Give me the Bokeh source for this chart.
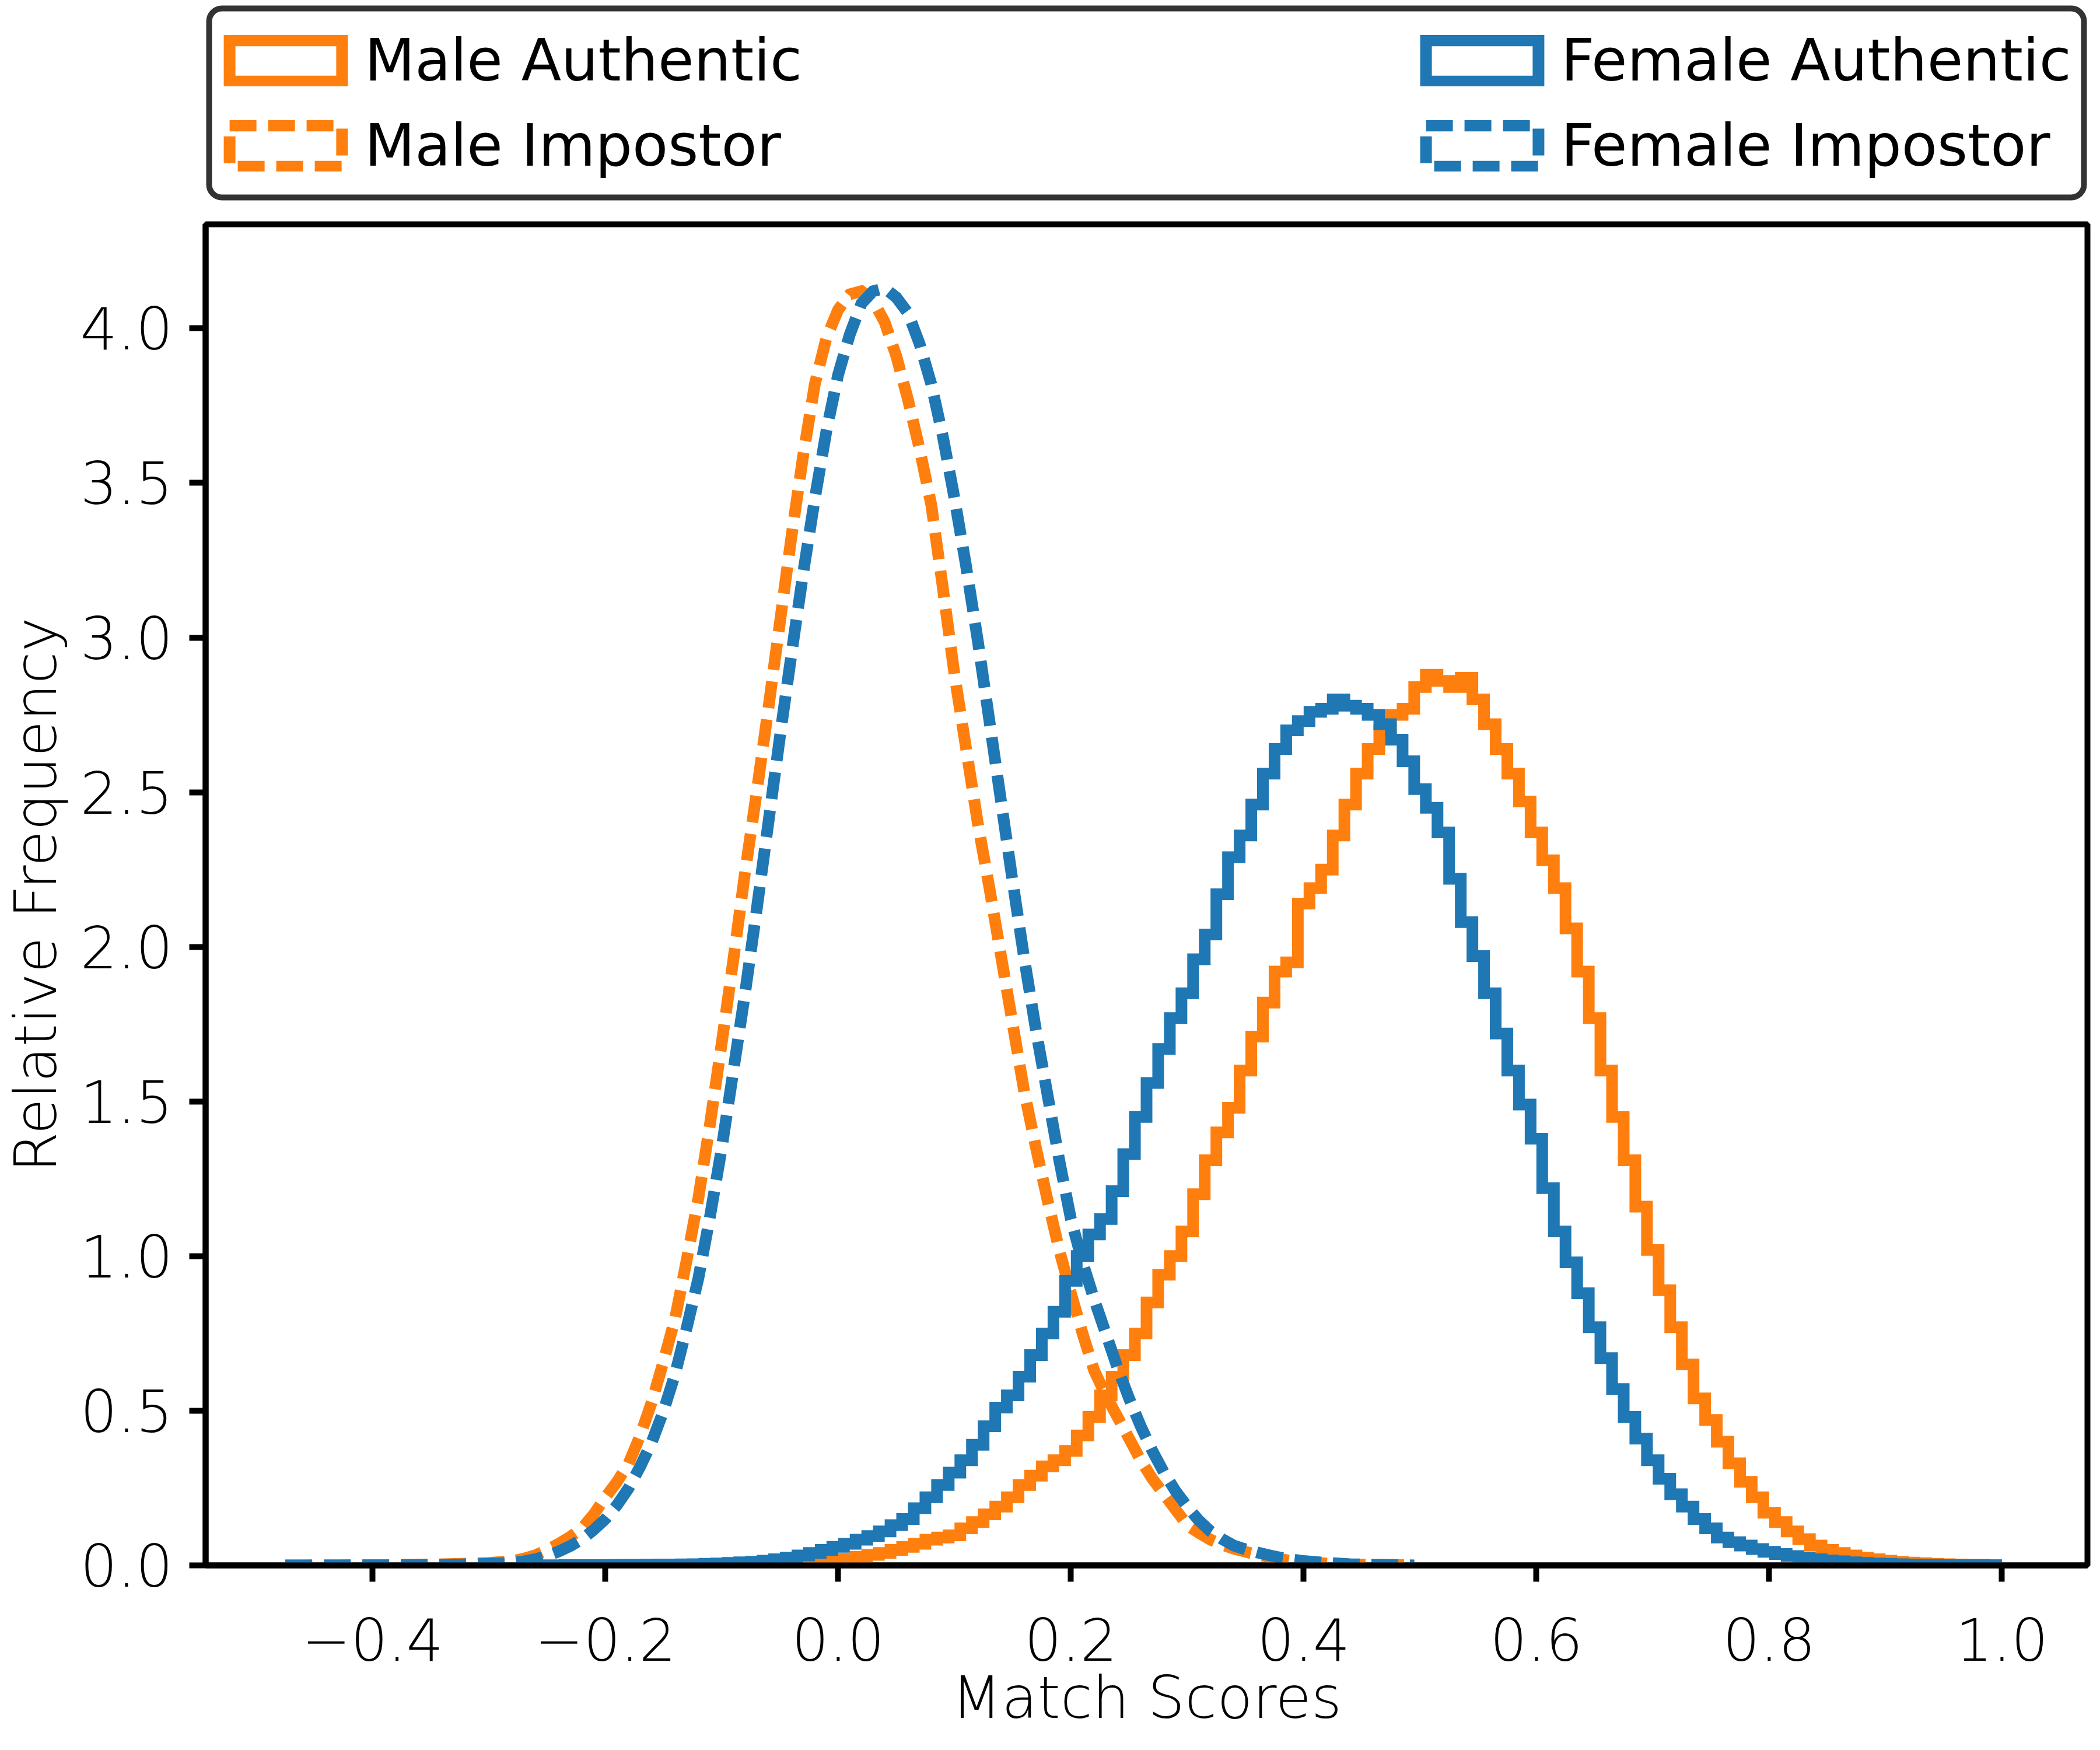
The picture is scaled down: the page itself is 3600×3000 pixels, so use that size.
import numpy as np
from bokeh.plotting import figure
from bokeh.layouts import column
from bokeh.models import (Range1d, FixedTicker, CustomJSTickFormatter, Legend,
                          LegendItem, BoxAnnotation, Title)
from bokeh.embed import file_html
from bokeh.resources import INLINE

# ---------------- data (relative frequency per 0.01-wide bin) ----------------
BIN_WIDTH = 0.01
SCORE_MIN = -0.47
SCORE_MAX = 1.0

male_impostor_first = -0.47   # centre of first bin
male_impostor = [
    0.0002, 0.0002, 0.0003, 0.0003, 0.0004, 0.0005, 0.0006, 0.0008, 0.0010, 0.0013,
    0.0017, 0.0022, 0.0028, 0.0036, 0.0046, 0.0055, 0.0065, 0.008, 0.011, 0.014,
    0.022, 0.033, 0.05, 0.07, 0.093, 0.12, 0.165, 0.22, 0.27, 0.33,
    0.42, 0.53, 0.66, 0.80, 0.99, 1.19, 1.43, 1.69, 1.96, 2.24,
    2.50, 2.77, 3.05, 3.33, 3.59, 3.82, 3.97, 4.06, 4.11, 4.12,
    4.09, 4.02, 3.91, 3.77, 3.61, 3.43, 3.16, 2.88, 2.64, 2.40,
    2.19, 1.97, 1.75, 1.53, 1.35, 1.18, 1.02, 0.88, 0.75, 0.63,
    0.55, 0.48, 0.41, 0.34, 0.28, 0.23, 0.18, 0.13, 0.105, 0.083,
    0.067, 0.054, 0.044, 0.035, 0.027, 0.020, 0.014, 0.010, 0.008, 0.006,
    0.004, 0.003, 0.0025, 0.002, 0.0015, 0.001, 0.0007,
]

female_impostor_first = -0.47
female_impostor = [
    0.0001, 0.0001, 0.0001, 0.0002, 0.0002, 0.0003, 0.0003, 0.0004, 0.0005, 0.0007,
    0.0009, 0.0012, 0.0015, 0.002, 0.0025, 0.0032, 0.004, 0.005, 0.0065, 0.008,
    0.013, 0.02, 0.031, 0.045, 0.063, 0.085, 0.115, 0.15, 0.195, 0.25,
    0.32, 0.40, 0.50, 0.62, 0.77, 0.93, 1.13, 1.35, 1.60, 1.85,
    2.12, 2.40, 2.68, 2.95, 3.21, 3.45, 3.67, 3.85, 3.98, 4.08,
    4.12, 4.13, 4.10, 4.05, 3.95, 3.82, 3.65, 3.45, 3.23, 2.99,
    2.73, 2.47, 2.21, 1.96, 1.73, 1.52, 1.31, 1.12, 0.98, 0.86,
    0.75, 0.64, 0.54, 0.45, 0.37, 0.30, 0.24, 0.19, 0.145, 0.11,
    0.085, 0.064, 0.052, 0.042, 0.033, 0.025, 0.019, 0.014, 0.011, 0.008,
    0.006, 0.004, 0.003, 0.002, 0.0015, 0.001, 0.0007,
]

female_authentic_first = -0.25
female_authentic = [
    0.0005, 0.0005, 0.0008, 0.0008, 0.001, 0.001, 0.0015, 0.002, 0.002, 0.0025,
    0.003, 0.003, 0.0035, 0.004, 0.005, 0.006, 0.008, 0.010, 0.012, 0.015,
    0.020, 0.025, 0.032, 0.040, 0.050, 0.060, 0.070, 0.083, 0.095, 0.11,
    0.13, 0.15, 0.185, 0.22, 0.26, 0.30, 0.34, 0.39, 0.45, 0.51,
    0.55, 0.61, 0.68, 0.75, 0.82, 0.92, 1.00, 1.07, 1.12, 1.21,
    1.33, 1.45, 1.56, 1.67, 1.77, 1.85, 1.96, 2.04, 2.17, 2.29,
    2.36, 2.46, 2.56, 2.64, 2.70, 2.73, 2.76, 2.77, 2.80, 2.78,
    2.77, 2.75, 2.72, 2.67, 2.60, 2.51, 2.45, 2.37, 2.22, 2.08,
    1.97, 1.85, 1.72, 1.60, 1.49, 1.38, 1.22, 1.08, 0.98, 0.88,
    0.77, 0.67, 0.57, 0.48, 0.41, 0.34, 0.28, 0.23, 0.19, 0.15,
    0.12, 0.09, 0.075, 0.064, 0.053, 0.044, 0.037, 0.030, 0.025, 0.020,
    0.016, 0.013, 0.010, 0.008, 0.006, 0.005, 0.004, 0.003, 0.0025, 0.002,
    0.0015, 0.001, 0.001, 0.0008, 0.0005,
]

male_authentic_first = -0.20
male_authentic = [
    0.0005, 0.0005, 0.0007, 0.0008, 0.001, 0.001, 0.0012, 0.0015, 0.0018, 0.002,
    0.0025, 0.003, 0.003, 0.004, 0.005, 0.006, 0.007, 0.009, 0.011, 0.013,
    0.016, 0.021, 0.028, 0.034, 0.040, 0.050, 0.060, 0.070, 0.083, 0.090,
    0.097, 0.12, 0.14, 0.165, 0.19, 0.22, 0.26, 0.29, 0.32, 0.34,
    0.37, 0.42, 0.48, 0.55, 0.61, 0.68, 0.75, 0.85, 0.94, 1.00,
    1.08, 1.20, 1.31, 1.40, 1.48, 1.60, 1.71, 1.82, 1.92, 1.95,
    2.14, 2.19, 2.25, 2.36, 2.46, 2.56, 2.64, 2.70, 2.75, 2.77,
    2.84, 2.88, 2.86, 2.84, 2.87, 2.80, 2.72, 2.64, 2.56, 2.47,
    2.37, 2.28, 2.19, 2.06, 1.92, 1.77, 1.60, 1.45, 1.31, 1.16,
    1.02, 0.89, 0.77, 0.65, 0.54, 0.47, 0.40, 0.33, 0.27, 0.22,
    0.17, 0.14, 0.11, 0.085, 0.064, 0.050, 0.040, 0.032, 0.025, 0.020,
    0.015, 0.012, 0.009, 0.007, 0.005, 0.004, 0.003, 0.002, 0.002, 0.001,
]

x_ticks = [-0.4, -0.2, 0.0, 0.2, 0.4, 0.6, 0.8, 1.0]
y_ticks = [0.0, 0.5, 1.0, 1.5, 2.0, 2.5, 3.0, 3.5, 4.0]
x_title = "Match Scores"
y_title = "Relative Frequency"

ORANGE = "#ff7f0e"
BLUE = "#1f77b4"
DASH = "46 20"
FONT = "DejaVu Sans"
FS = "100px"
HIST_LW = 20
AXIS_LW = 10

# label, first bin centre, heights, colour, dash, drawn as steps?
series = [
    ("Male Authentic", male_authentic_first, male_authentic, ORANGE, "solid", True),
    ("Male Impostor", male_impostor_first, male_impostor, ORANGE, DASH, False),
    ("Female Authentic", female_authentic_first, female_authentic, BLUE, "solid", True),
    ("Female Impostor", female_impostor_first, female_impostor, BLUE, DASH, False),
]


def hist_outline(first_centre, heights, steps):
    h = np.asarray(heights, dtype=float)
    edges = first_centre - BIN_WIDTH / 2 + BIN_WIDTH * np.arange(len(h) + 1)
    if steps:
        xs = np.repeat(edges, 2)
        ys = np.concatenate([[0.0], np.repeat(h, 2), [0.0]])
    else:
        centres = first_centre + BIN_WIDTH * np.arange(len(h))
        xs = np.concatenate([[edges[0]], centres, [edges[-1]]])
        ys = np.concatenate([[0.0], h, [0.0]])
    return xs, ys


W = 3584
LEFT = 350
RIGHT = 6

# ---------------- main plot ----------------
x_lo = SCORE_MIN - 0.05 * (SCORE_MAX - SCORE_MIN)
x_hi = SCORE_MAX + 0.05 * (SCORE_MAX - SCORE_MIN)
ymax = max(max(s[2]) for s in series) * 1.05

p = figure(width=W, height=2624,
           x_range=Range1d(x_lo, x_hi), y_range=Range1d(0, ymax),
           output_backend="svg", toolbar_location=None,
           min_border_left=LEFT, min_border_right=RIGHT,
           min_border_top=24, min_border_bottom=301)
p.background_fill_color = "white"
p.border_fill_color = "white"
p.outline_line_color = "black"
p.outline_line_width = AXIS_LW
p.outline_line_alpha = 1.0
p.xgrid.visible = False
p.ygrid.visible = False

for label, first, vals, color, dash, steps in series:
    xs, ys = hist_outline(first, vals, steps)
    p.line(xs, ys, line_color=color, line_width=HIST_LW, line_dash=dash,
           line_join="miter")

p.xaxis.ticker = FixedTicker(ticks=x_ticks)
p.yaxis.ticker = FixedTicker(ticks=y_ticks)
fmt = "return tick.toFixed(1).replace('-', '\u2212');"
p.xaxis.formatter = CustomJSTickFormatter(code=fmt)
p.yaxis.formatter = CustomJSTickFormatter(code=fmt)
p.yaxis.axis_label = y_title

for ax in (p.xaxis[0], p.yaxis[0]):
    ax.axis_line_width = AXIS_LW
    ax.axis_line_color = "black"
    ax.major_tick_line_width = AXIS_LW
    ax.major_tick_line_color = "black"
    ax.major_tick_out = 28
    ax.major_tick_in = 0
    ax.minor_tick_line_color = None
    ax.major_label_text_font = FONT
    ax.major_label_text_font_size = FS
    ax.major_label_text_color = "black"
    ax.axis_label_text_font = FONT
    ax.axis_label_text_font_size = FS
    ax.axis_label_text_font_style = "normal"
    ax.axis_label_text_color = "black"

p.xaxis.major_label_standoff = 62
p.yaxis.major_label_standoff = 28
p.yaxis.axis_label_standoff = 14

# x-axis title as a panel below the axis
p.add_layout(Title(text=x_title, align="center", text_font=FONT, text_font_size=FS,
                   text_font_style="normal", text_color="black", standoff=0),
             "below")

# ---------------- legend panel (pixel units) ----------------
leg = figure(width=W, height=360, x_range=Range1d(LEFT, W - RIGHT), y_range=Range1d(0, 360),
             x_axis_type=None, y_axis_type=None, output_backend="svg",
             toolbar_location=None, min_border_left=LEFT, min_border_right=RIGHT,
             min_border_top=0, min_border_bottom=0)
leg.outline_line_color = None
leg.background_fill_color = "white"
leg.border_fill_color = "white"

leg.add_layout(BoxAnnotation(left=LEFT + 6, right=W - RIGHT - 6, bottom=22, top=346,
                             fill_alpha=0, line_color="#333333", line_alpha=1.0,
                             line_width=10, border_radius=22))

items = []
for label, first, vals, color, dash, steps in series:
    # off-screen helper glyph: only its style is used by the legend entry
    r = leg.rect(x=[-1000], y=[-1000], width=1, height=1, fill_color=None,
                 line_color=color, line_width=HIST_LW, line_dash=dash, line_join="miter")
    items.append(LegendItem(label=label, renderers=[r]))

common = dict(orientation="vertical", glyph_width=241, glyph_height=88,
              label_standoff=15, spacing=29, padding=0, margin=0,
              border_line_color=None, background_fill_alpha=0,
              label_text_font=FONT, label_text_font_size=FS,
              label_text_color="black", label_height=70)
leg.add_layout(Legend(items=items[:2], location=(17, 52), **common))
leg.add_layout(Legend(items=items[2:], location=(2068, 52), **common))

layout = column(leg, p)
open("out.html", "w").write(file_html(layout, INLINE))
